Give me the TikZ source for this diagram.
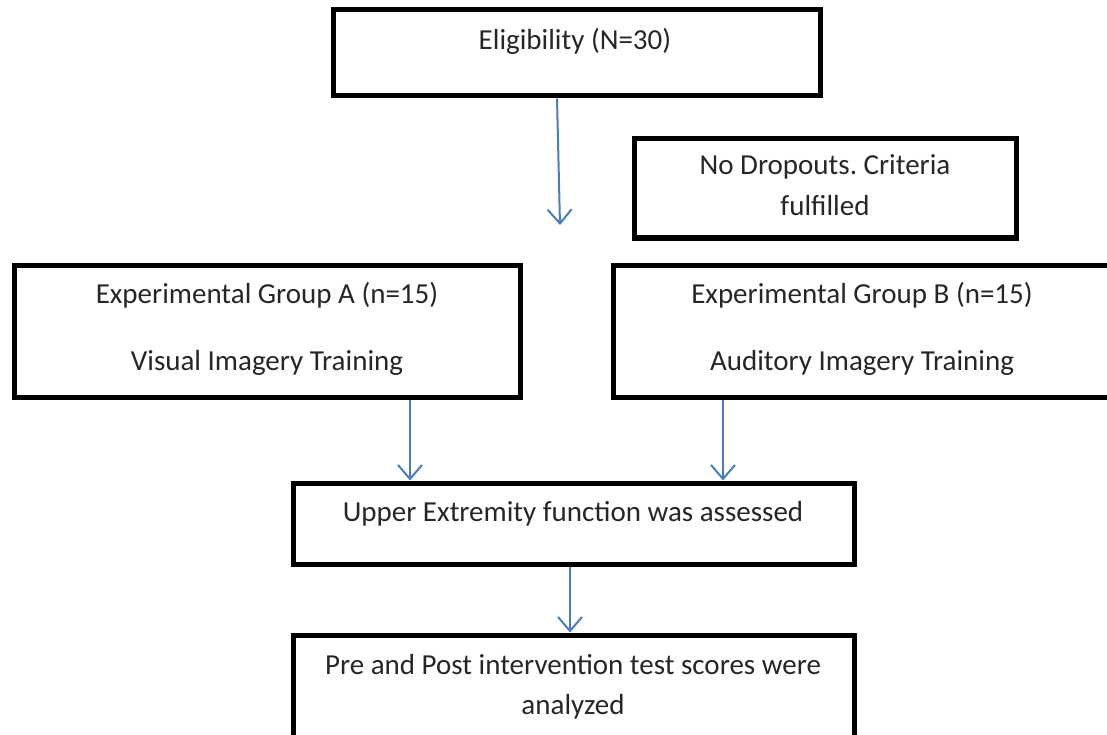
\documentclass[tikz,border=0pt]{standalone}
\usepackage{fontspec}
\setmainfont{Carlito}
\usetikzlibrary{arrows.meta}
\definecolor{arrowblue}{HTML}{4A7EBB}
\frenchspacing
\begin{document}
\begin{tikzpicture}[x=1pt,y=-1pt,
  box/.style={draw=black,line width=5pt,rectangle,inner sep=0pt},
  txt/.style={font=\fontsize{29}{40}\selectfont,inner sep=0pt,anchor=base,text=black!85},
  arr/.style={draw=arrowblue,line width=2pt,-{Straight Barb[length=14pt,width=24pt,line width=2pt]}}]
\useasboundingbox (0,0) rectangle (1107,735);
% boxes
\node[box,minimum width=487pt,minimum height=86pt] (elig) at (576.5,53) {};
\node[box,minimum width=382pt,minimum height=99pt] (drop) at (825,188.5) {};
\node[box,minimum width=506pt,minimum height=132pt] (grpA) at (267,331) {};
\node[box,minimum width=502pt,minimum height=132pt] (grpB) at (864,331) {};
\node[box,minimum width=561pt,minimum height=81pt] (upper) at (573.5,523.5) {};
\node[box,minimum width=561pt,minimum height=110pt] (prepost) at (573.5,690) {};
% texts
\node[txt] (t1) at (575,50) {Eligibility (N=30)};
\node[txt] (t2) at (825,175) {No Dropouts. Criteria};
\node[txt] (t3) at (825,216) {fulfilled};
\node[txt] (t4) at (267,303) {Experimental Group A (n=15)};
\node[txt] (t5) at (267,370) {Visual Imagery Training};
\node[txt] (t6) at (862,303) {Experimental Group B (n=15)};
\node[txt] (t7) at (862,370) {Auditory Imagery Training};
\node[txt] (t8) at (573,521) {Upper Extremity function was assessed};
\node[txt] (t9) at (573,674) {Pre and Post intervention test scores were};
\node[txt] (t10) at (573,714) {analyzed};
% connectors
\coordinate (e1) at (560,225);
\draw[arr] ([xshift=-19.5pt]elig.south) -- (e1);
\draw[arr] ([xshift=143pt]grpA.south) -- ([xshift=143pt]grpA.south |- upper.north);
\draw[arr] ([xshift=-141pt]grpB.south) -- ([xshift=-141pt]grpB.south |- upper.north);
\draw[arr] ([xshift=-3.5pt]upper.south) -- ([xshift=-3.5pt]upper.south |- prepost.north);
\end{tikzpicture}
\end{document}
